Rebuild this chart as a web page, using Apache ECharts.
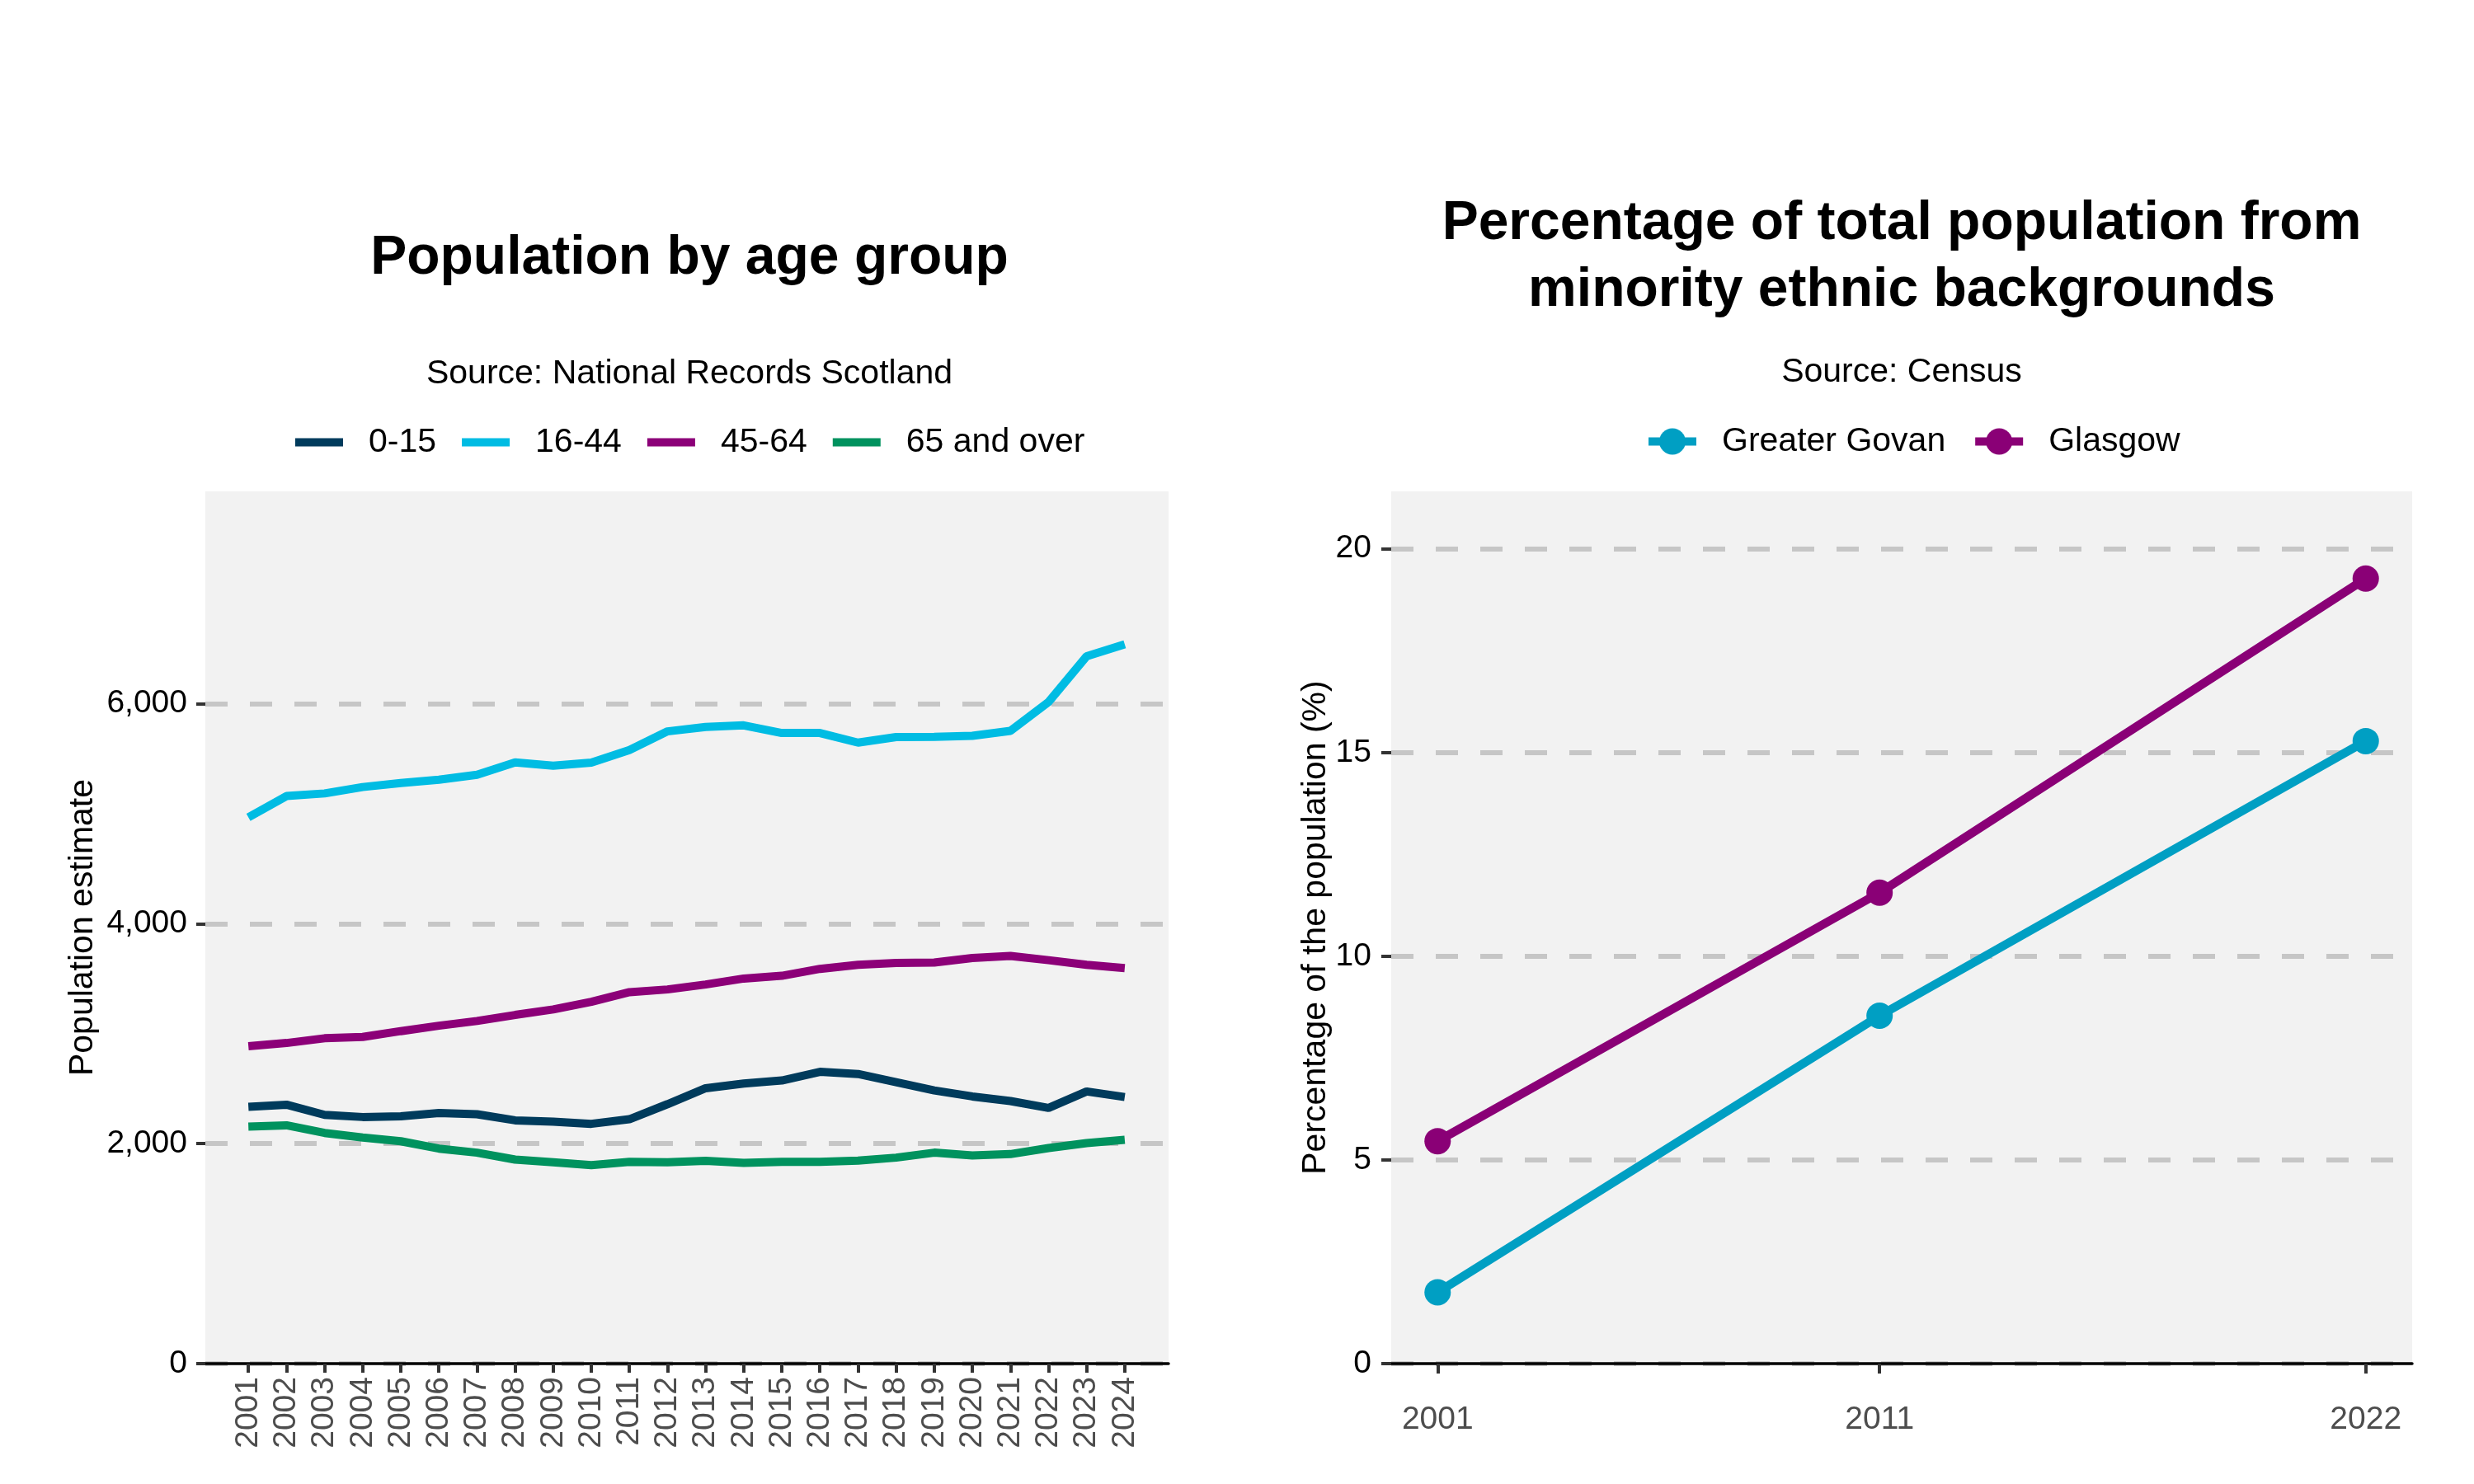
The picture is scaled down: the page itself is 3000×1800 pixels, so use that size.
<!DOCTYPE html>
<html>
<head>
<meta charset="utf-8">
<title>Greater Govan population</title>
<script src="https://cdn.jsdelivr.net/npm/echarts@6/dist/echarts.min.js"></script>
<style>
  html, body { margin: 0; padding: 0; background: #fff; }
  #chart { width: 3000px; height: 1800px; }
</style>
</head>
<body>
<div id="chart"></div>
<script>
// population estimates by age group (National Records Scotland)
var years = [2001, 2002, 2003, 2004, 2005, 2006, 2007, 2008, 2009, 2010, 2011, 2012,
             2013, 2014, 2015, 2016, 2017, 2018, 2019, 2020, 2021, 2022, 2023, 2024];
var age0to15 = [2334, 2354, 2262, 2242, 2249, 2279, 2267, 2212, 2200, 2180, 2222, 2359,
                2504, 2546, 2574, 2653, 2633, 2559, 2484, 2429, 2387, 2324, 2474, 2424];
var age16to44 = [4967, 5160, 5184, 5242, 5279, 5309, 5354, 5466, 5436, 5464, 5579, 5748,
                 5788, 5803, 5733, 5733, 5646, 5696, 5698, 5708, 5753, 6015, 6431, 6539];
var age45to64 = [2885, 2915, 2958, 2970, 3023, 3072, 3115, 3170, 3220, 3290, 3377, 3402,
                 3447, 3501, 3526, 3589, 3626, 3643, 3646, 3688, 3706, 3668, 3626, 3596];
var age65plus = [2155, 2167, 2097, 2055, 2022, 1955, 1918, 1855, 1830, 1805, 1835, 1830,
                 1843, 1825, 1835, 1835, 1845, 1873, 1918, 1893, 1905, 1960, 2005, 2035];
var popTicks = [0, 2000, 4000, 6000];

// minority ethnic share (Census)
var censusYears = [2001, 2011, 2022];
var govanPct = [1.75, 8.54, 15.28];
var glasgowPct = [5.46, 11.56, 19.27];
var pctTicks = [0, 5, 10, 15, 20];

var FONT = 'Liberation Sans';

function pairs(xs, ys) {
    var out = [];
    for (var i = 0; i < xs.length; i++) {
        out.push([xs[i], ys[i]]);
    }
    return out;
}

function ageLine(name, values, color) {
    return {
        name: name,
        type: 'line',
        xAxisIndex: 0,
        yAxisIndex: 0,
        data: pairs(years, values),
        symbol: 'none',
        lineStyle: { color: color, width: 10 },
        itemStyle: { color: color },
        silent: true,
        animation: false
    };
}

function censusLine(name, values, color) {
    return {
        name: name,
        type: 'line',
        xAxisIndex: 1,
        yAxisIndex: 1,
        data: pairs(censusYears, values),
        symbol: 'circle',
        symbolSize: 32,
        lineStyle: { color: color, width: 10.5 },
        itemStyle: { color: color },
        silent: true,
        animation: false
    };
}

var splitStyle = {
    show: true,
    lineStyle: { color: '#c6c6c6', width: 6, type: [27, 27] }
};
var tickStyle = { color: '#333333', width: 4 };

var chart = echarts.init(document.getElementById('chart'));
var option = {
    backgroundColor: '#ffffff',
    animation: false,
    title: [
        {
            text: 'Population by age group',
            left: 836, top: 274, padding: 0, textAlign: 'center',
            textStyle: { fontFamily: FONT, fontSize: 66, fontWeight: 'bold', color: '#000', lineHeight: 80 }
        },
        {
            text: 'Source: National Records Scotland',
            left: 836, top: 429, padding: 0, textAlign: 'center',
            textStyle: { fontFamily: FONT, fontSize: 41, fontWeight: 'normal', color: '#000', lineHeight: 50 }
        },
        {
            text: 'Percentage of total population from\nminority ethnic backgrounds',
            left: 2306, top: 231, padding: 0, textAlign: 'center',
            textStyle: { fontFamily: FONT, fontSize: 66, fontWeight: 'bold', color: '#000', lineHeight: 81 }
        },
        {
            text: 'Source: Census',
            left: 2306, top: 427, padding: 0, textAlign: 'center',
            textStyle: { fontFamily: FONT, fontSize: 41, fontWeight: 'normal', color: '#000', lineHeight: 50 }
        }
    ],
    legend: [
        {
            data: ['0-15', '16-44', '45-64', '65 and over'],
            left: 358, top: 516, padding: 0,
            icon: 'rect',
            itemWidth: 58, itemHeight: 10, itemGap: 31,
            selectedMode: false,
            textStyle: { fontFamily: FONT, fontSize: 41, color: '#000', padding: [0, 0, 0, 26] }
        },
        {
            data: ['Greater Govan', 'Glasgow'],
            left: 1994, top: 515, padding: 0,
            itemWidth: 58, itemHeight: 40, itemGap: 31,
            selectedMode: false,
            lineStyle: { width: 10 },
            textStyle: { fontFamily: FONT, fontSize: 41, color: '#000', padding: [0, 0, 0, 26] }
        }
    ],
    grid: [
        { left: 249, top: 596, width: 1168, height: 1058, show: true, backgroundColor: '#f2f2f2', borderWidth: 0 },
        { left: 1687, top: 596, width: 1238, height: 1058, show: true, backgroundColor: '#f2f2f2', borderWidth: 0 }
    ],
    xAxis: [
        {
            type: 'value', gridIndex: 0,
            min: 1999.87, max: 2025.15,
            axisLine: { show: true, onZero: false, lineStyle: { color: '#000', width: 3.5 } },
            axisTick: { show: true, length: 11, lineStyle: tickStyle, customValues: years },
            axisLabel: {
                customValues: years, rotate: 90, margin: 16,
                fontFamily: FONT, fontSize: 39, color: '#4d4d4d',
                formatter: function (v) { return String(v); }
            },
            splitLine: { show: false }
        },
        {
            type: 'value', gridIndex: 1,
            min: 1999.95, max: 2023.05,
            axisLine: { show: true, onZero: false, lineStyle: { color: '#000', width: 3.5 } },
            axisTick: { show: true, length: 12, lineStyle: tickStyle, customValues: censusYears },
            axisLabel: {
                customValues: censusYears, margin: 49,
                fontFamily: FONT, fontSize: 39, color: '#4d4d4d',
                formatter: function (v) { return String(v); }
            },
            splitLine: { show: false }
        }
    ],
    yAxis: [
        {
            type: 'value', gridIndex: 0,
            min: 0, max: 7930,
            name: 'Population estimate',
            nameLocation: 'middle', nameGap: 128,
            nameTextStyle: { fontFamily: FONT, fontSize: 41, color: '#000' },
            axisLine: { show: false },
            axisTick: { show: true, length: 11, lineStyle: tickStyle, customValues: popTicks },
            axisLabel: {
                customValues: popTicks, margin: 22,
                fontFamily: FONT, fontSize: 39, color: '#000',
                formatter: function (v) { return v.toLocaleString('en-US'); }
            },
            splitLine: splitStyle
        },
        {
            type: 'value', gridIndex: 1,
            min: 0, max: 21.41,
            name: 'Percentage of the population (%)',
            nameLocation: 'middle', nameGap: 67,
            nameTextStyle: { fontFamily: FONT, fontSize: 41, color: '#000' },
            axisLine: { show: false },
            axisTick: { show: true, length: 12, lineStyle: tickStyle, customValues: pctTicks },
            axisLabel: {
                customValues: pctTicks, margin: 24,
                fontFamily: FONT, fontSize: 39, color: '#000'
            },
            splitLine: splitStyle
        }
    ],
    series: [
        ageLine('0-15', age0to15, '#003b5c'),
        ageLine('16-44', age16to44, '#00bce3'),
        ageLine('45-64', age45to64, '#8c0078'),
        ageLine('65 and over', age65plus, '#00925e'),
        censusLine('Greater Govan', govanPct, '#009fc3'),
        censusLine('Glasgow', glasgowPct, '#8a0076')
    ]
};
chart.setOption(option);
</script>
</body>
</html>
